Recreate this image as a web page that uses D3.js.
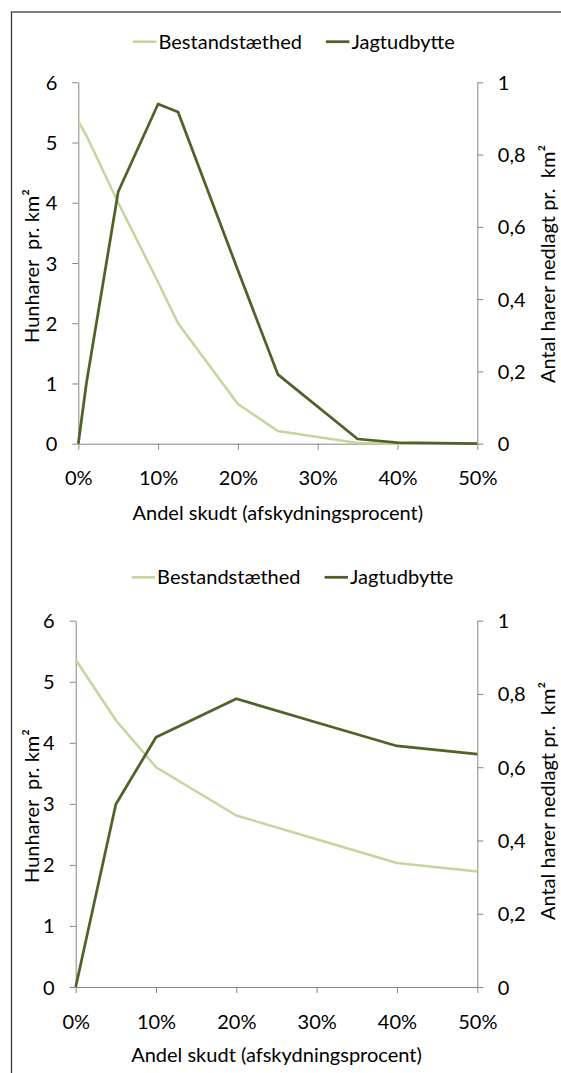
<!DOCTYPE html>
<html>
<head>
<meta charset="utf-8">
<script src="https://cdn.jsdelivr.net/npm/d3@7"></script>
<style>
  html, body { margin: 0; padding: 0; background: #fff; }
  svg { display: block; }
  text { font-family: Lato, "Open Sans", sans-serif; fill: #000; white-space: pre; }
</style>
</head>
<body>
<svg id="chart" width="561" height="1073"></svg>
<script>
// ---------- DATA ----------
const seriesNames = ["Bestandstæthed", "Jagtudbytte"];
const xTickLabels = ["0%", "10%", "20%", "30%", "40%", "50%"];
const xTickValues = [0, 10, 20, 30, 40, 50];
const leftTickValues = [0, 1, 2, 3, 4, 5, 6];
const leftTickLabels = ["0", "1", "2", "3", "4", "5", "6"];
const rightTickValues = [0, 0.2, 0.4, 0.6, 0.8, 1];
const rightTickLabels = ["0", "0,2", "0,4", "0,6", "0,8", "1"];

// Top chart
const sharesTop = [0, 1, 5, 10, 12.5, 20, 25, 35, 40, 50];
const densityTop = [5.35, 5.12, 4.0, 2.68, 2.0, 0.66, 0.21, 0.01, 0, 0];
const harvestTop = [0, 0.165, 0.697, 0.94, 0.918, 0.48, 0.192, 0.013, 0.003, 0];

// Bottom chart
const sharesBottom = [0, 5, 10, 20, 30, 40, 50];
const densityBottom = [5.36, 4.37, 3.60, 2.81, 2.42, 2.03, 1.89];
const harvestBottom = [0, 0.499, 0.682, 0.787, 0.722, 0.658, 0.636];

const xTitle = "Andel skudt (afskydningsprocent)";
const leftTitle = "Hunharer  pr. km²";
const rightTitle = "Antal harer nedlagt pr.  km²";

// ---------- STYLE ----------
const lightColor = "#c3d69b";
const darkColor = "#4f6228";
const axisColor = "#868686";

const svg = d3.select("#chart");

// fit font size to reference title width
const probe = svg.append("text").attr("font-size", 100).text(xTitle);
const w100 = probe.node().getComputedTextLength();
probe.remove();
const fs = Math.round(100 * 290 / w100 * 10) / 10;

function textWidth(s) {
  const t = svg.append("text").attr("font-size", fs).text(s);
  const w = t.node().getComputedTextLength();
  t.remove();
  return w;
}

// outer frame
svg.append("rect")
  .attr("x", 11.5).attr("y", 12)
  .attr("width", 700).attr("height", 1200)
  .attr("fill", "none").attr("stroke", "#3a3a3a").attr("stroke-width", 1.3);

function drawChart(cfg) {
  const g = svg.append("g");
  const x = d3.scaleLinear().domain([0, 50]).range([cfg.left, cfg.right]);
  const yL = d3.scaleLinear().domain([0, 6]).range([cfg.bottom, cfg.top]);
  const yR = d3.scaleLinear().domain([0, 1]).range([cfg.bottom, cfg.top]);

  // x axis
  const xa = g.append("g").attr("transform", `translate(0,${cfg.bottom})`)
    .call(d3.axisBottom(x).tickValues(xTickValues)
      .tickFormat((d, i) => xTickLabels[i]).tickSize(6).tickSizeOuter(0));
  xa.selectAll("text").attr("y", 34.5).attr("dy", "0.35em").attr("font-size", fs);

  // left axis
  const la = g.append("g").attr("transform", `translate(${cfg.left},0)`)
    .call(d3.axisLeft(yL).tickValues(leftTickValues)
      .tickFormat((d, i) => leftTickLabels[i]).tickSize(6).tickPadding(15).tickSizeOuter(0));
  la.selectAll("text").attr("font-size", fs).attr("dy", "0.35em");

  // right axis
  const ra = g.append("g").attr("transform", `translate(${cfg.right},0)`)
    .call(d3.axisRight(yR).tickValues(rightTickValues)
      .tickFormat((d, i) => rightTickLabels[i]).tickSize(6).tickPadding(14.5).tickSizeOuter(0));
  ra.selectAll("text").attr("font-size", fs).attr("dy", "0.35em");

  g.selectAll(".domain").attr("stroke", axisColor).attr("stroke-width", 1);
  g.selectAll(".tick line").attr("stroke", axisColor).attr("stroke-width", 1);
  g.selectAll(".tick text").attr("fill", "#000").attr("font-family", "Lato, 'Open Sans', sans-serif");

  // lines
  const lineL = d3.line().x((d, i) => x(cfg.shares[i])).y(d => yL(d));
  const lineR = d3.line().x((d, i) => x(cfg.shares[i])).y(d => yR(d));
  g.append("path").datum(cfg.density).attr("d", lineL)
    .attr("fill", "none").attr("stroke", lightColor).attr("stroke-width", 2.5)
    .attr("stroke-linejoin", "round");
  g.append("path").datum(cfg.harvest).attr("d", lineR)
    .attr("fill", "none").attr("stroke", darkColor).attr("stroke-width", 2.75)
    .attr("stroke-linejoin", "round");

  // axis titles
  g.append("text").attr("x", (cfg.left + cfg.right) / 2).attr("y", cfg.xTitleY)
    .attr("dy", "0.35em").attr("text-anchor", "middle").attr("font-size", fs).text(xTitle);
  g.append("text").attr("transform", `translate(${cfg.leftTitleX},${cfg.leftTitleY}) rotate(-90)`)
    .attr("dy", "0.35em").attr("text-anchor", "middle").attr("font-size", fs).text(leftTitle);
  g.append("text").attr("transform", `translate(${cfg.rightTitleX},${cfg.rightTitleY}) rotate(-90)`)
    .attr("dy", "0.35em").attr("text-anchor", "middle").attr("font-size", fs).text(rightTitle);

  // legend (centred like the reference)
  const sampleW = 23.5, sampleGap = 2, itemGap = 24;
  const widths = seriesNames.map(textWidth);
  const total = 2 * (sampleW + sampleGap) + widths[0] + widths[1] + itemGap;
  let cx = cfg.legCenter - total / 2;
  const colors = [lightColor, darkColor];
  const strokes = [2.5, 2.75];
  const lg = g.append("g");
  seriesNames.forEach((name, i) => {
    lg.append("line").attr("x1", cx).attr("x2", cx + sampleW)
      .attr("y1", cfg.legY).attr("y2", cfg.legY)
      .attr("stroke", colors[i]).attr("stroke-width", strokes[i]);
    lg.append("text").attr("x", cx + sampleW + sampleGap).attr("y", cfg.legY).attr("dy", "0.35em")
      .attr("font-size", fs).text(name);
    cx += sampleW + sampleGap + widths[i] + itemGap;
  });
}

drawChart({
  left: 78.3, right: 477.3, top: 82.3, bottom: 443.7,
  shares: sharesTop, density: densityTop, harvest: harvestTop,
  xTitleY: 513.3, leftTitleX: 32, leftTitleY: 266, rightTitleX: 548, rightTitleY: 264,
  legY: 41.7, legCenter: 293.9
});

drawChart({
  left: 75.7, right: 477.3, top: 620.7, bottom: 987,
  shares: sharesBottom, density: densityBottom, harvest: harvestBottom,
  xTitleY: 1055, leftTitleX: 32, leftTitleY: 806, rightTitleX: 548, rightTitleY: 801,
  legY: 577.3, legCenter: 292.5
});
</script>
</body>
</html>
